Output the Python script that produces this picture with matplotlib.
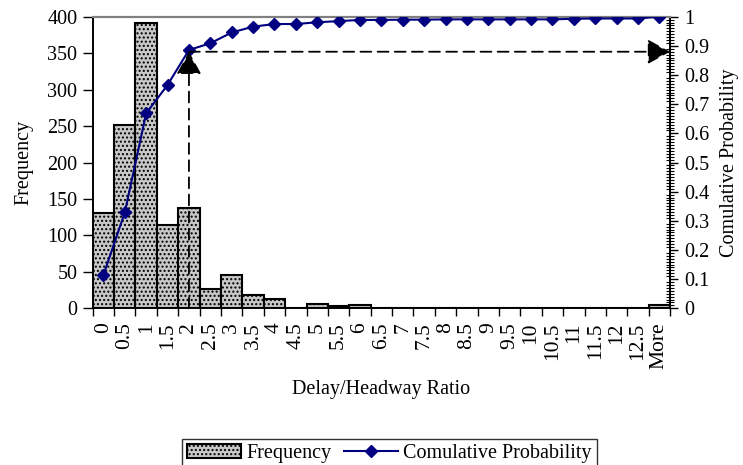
import numpy as np
import matplotlib
matplotlib.use("Agg")
from matplotlib import pyplot as plt
from matplotlib.ticker import MultipleLocator, FixedLocator

plt.rcParams["font.family"] = ["Liberation Serif", "DejaVu Serif"]
plt.rcParams["hatch.color"] = "#9a9a9a"

# Histogram bins (delay/headway ratio) and counts
bins = ["0", "0.5", "1", "1.5", "2", "2.5", "3", "3.5", "4", "4.5", "5",
        "5.5", "6", "6.5", "7", "7.5", "8", "8.5", "9", "9.5", "10",
        "10.5", "11", "11.5", "12", "12.5", "More"]
frequency = [131, 252, 392, 114, 137, 26, 46, 18, 13, 0, 6,
             3, 5, 0, 1, 0, 1, 0, 0, 0, 0,
             0, 1, 1, 0, 0, 5]
cumulative = [0.114, 0.329, 0.669, 0.766, 0.886, 0.909, 0.946, 0.966, 0.975,
              0.975, 0.981, 0.985, 0.989, 0.989, 0.990, 0.990, 0.991, 0.991,
              0.991, 0.991, 0.991, 0.991, 0.993, 0.994, 0.994, 0.994, 1.0]

# Reading guide: 2.0 ratio -> ~0.88 cumulative probability
guide_bin = "2"
guide_prob = 0.88

FS = 14.5

fig = plt.figure(figsize=(7.43, 4.65), dpi=100)
ax = fig.add_axes([0.1248, 0.337, 0.777, 0.627])
ax2 = ax.twinx()

x = np.arange(len(bins))
ax.bar(x, frequency, width=1.0, color="#c8c8c8", edgecolor="black",
       linewidth=1.5, hatch="....", label="Frequency", zorder=2)

ax2.plot(x, cumulative, color="#000080", linewidth=1.5, marker="D",
         markersize=6.5, label="Comulative Probability", zorder=3)

ax.set_xlim(-0.5, len(bins) - 0.5)
ax.set_ylim(0, 400)
ax2.set_ylim(0, 1)

# left axis
ax.yaxis.set_major_locator(MultipleLocator(50))
ax.tick_params(axis="y", direction="out", length=7, width=1, labelsize=FS,
               pad=4)
ax.set_ylabel("Frequency", fontsize=FS, labelpad=10)

# x axis: labels at centers, tick marks at bin edges
ax.set_xticks(x)
ax.set_xticklabels(bins, rotation=90, fontsize=15.5)
ax.tick_params(axis="x", which="major", length=0, pad=10)
ax.xaxis.set_minor_locator(FixedLocator(np.arange(len(bins) + 1) - 0.5))
ax.tick_params(axis="x", which="minor", direction="out", length=6, width=1)
ax.set_xlabel("Delay/Headway Ratio", fontsize=FS, labelpad=8)

# right axis
ax2.yaxis.set_minor_locator(MultipleLocator(0.01))
ax2.set_yticks(np.round(np.arange(0, 1.01, 0.1), 1))
ax2.set_yticklabels(["0"] + [f"{v:g}" for v in np.arange(0.1, 0.95, 0.1)] + ["1"])
ax2.tick_params(axis="y", which="major", direction="out", length=6, width=1,
                labelsize=FS, pad=4)
ax2.tick_params(axis="y", which="minor", direction="inout", length=6, width=0.8)
ax2.set_ylabel("Comulative Probability", fontsize=FS, labelpad=8)

for a in (ax, ax2):
    a.spines["top"].set_color("#808080")
    a.spines["top"].set_linewidth(1.5)
    for s in ("left", "right", "bottom"):
        a.spines[s].set_linewidth(1.2)

# dashed reading guide with arrowheads
gx = bins.index(guide_bin)
dash = (0, (6, 3.5))
arrow = dict(arrowstyle="-|>,head_length=1.0,head_width=0.55",
             color="black", lw=1.3, linestyle=dash,
             shrinkA=0, shrinkB=0, mutation_scale=14)
ax2.annotate("", xy=(gx, guide_prob), xytext=(gx, 0),
             arrowprops=arrow, zorder=4)
ax2.annotate("", xy=(len(bins) - 0.5, guide_prob), xytext=(gx, guide_prob),
             arrowprops=arrow, zorder=4)

h1, l1 = ax.get_legend_handles_labels()
h2, l2 = ax2.get_legend_handles_labels()
leg = fig.legend(h1 + h2, l1 + l2, loc="upper right",
                 bbox_to_anchor=(0.803, 0.056), ncol=2, fontsize=FS,
                 frameon=True, fancybox=False, edgecolor="black",
                 handlelength=2.7, handletextpad=0.25, columnspacing=0.6,
                 borderpad=0.25, borderaxespad=0)
leg.get_frame().set_linewidth(1.0)

fig.savefig("out.png", dpi=100)
